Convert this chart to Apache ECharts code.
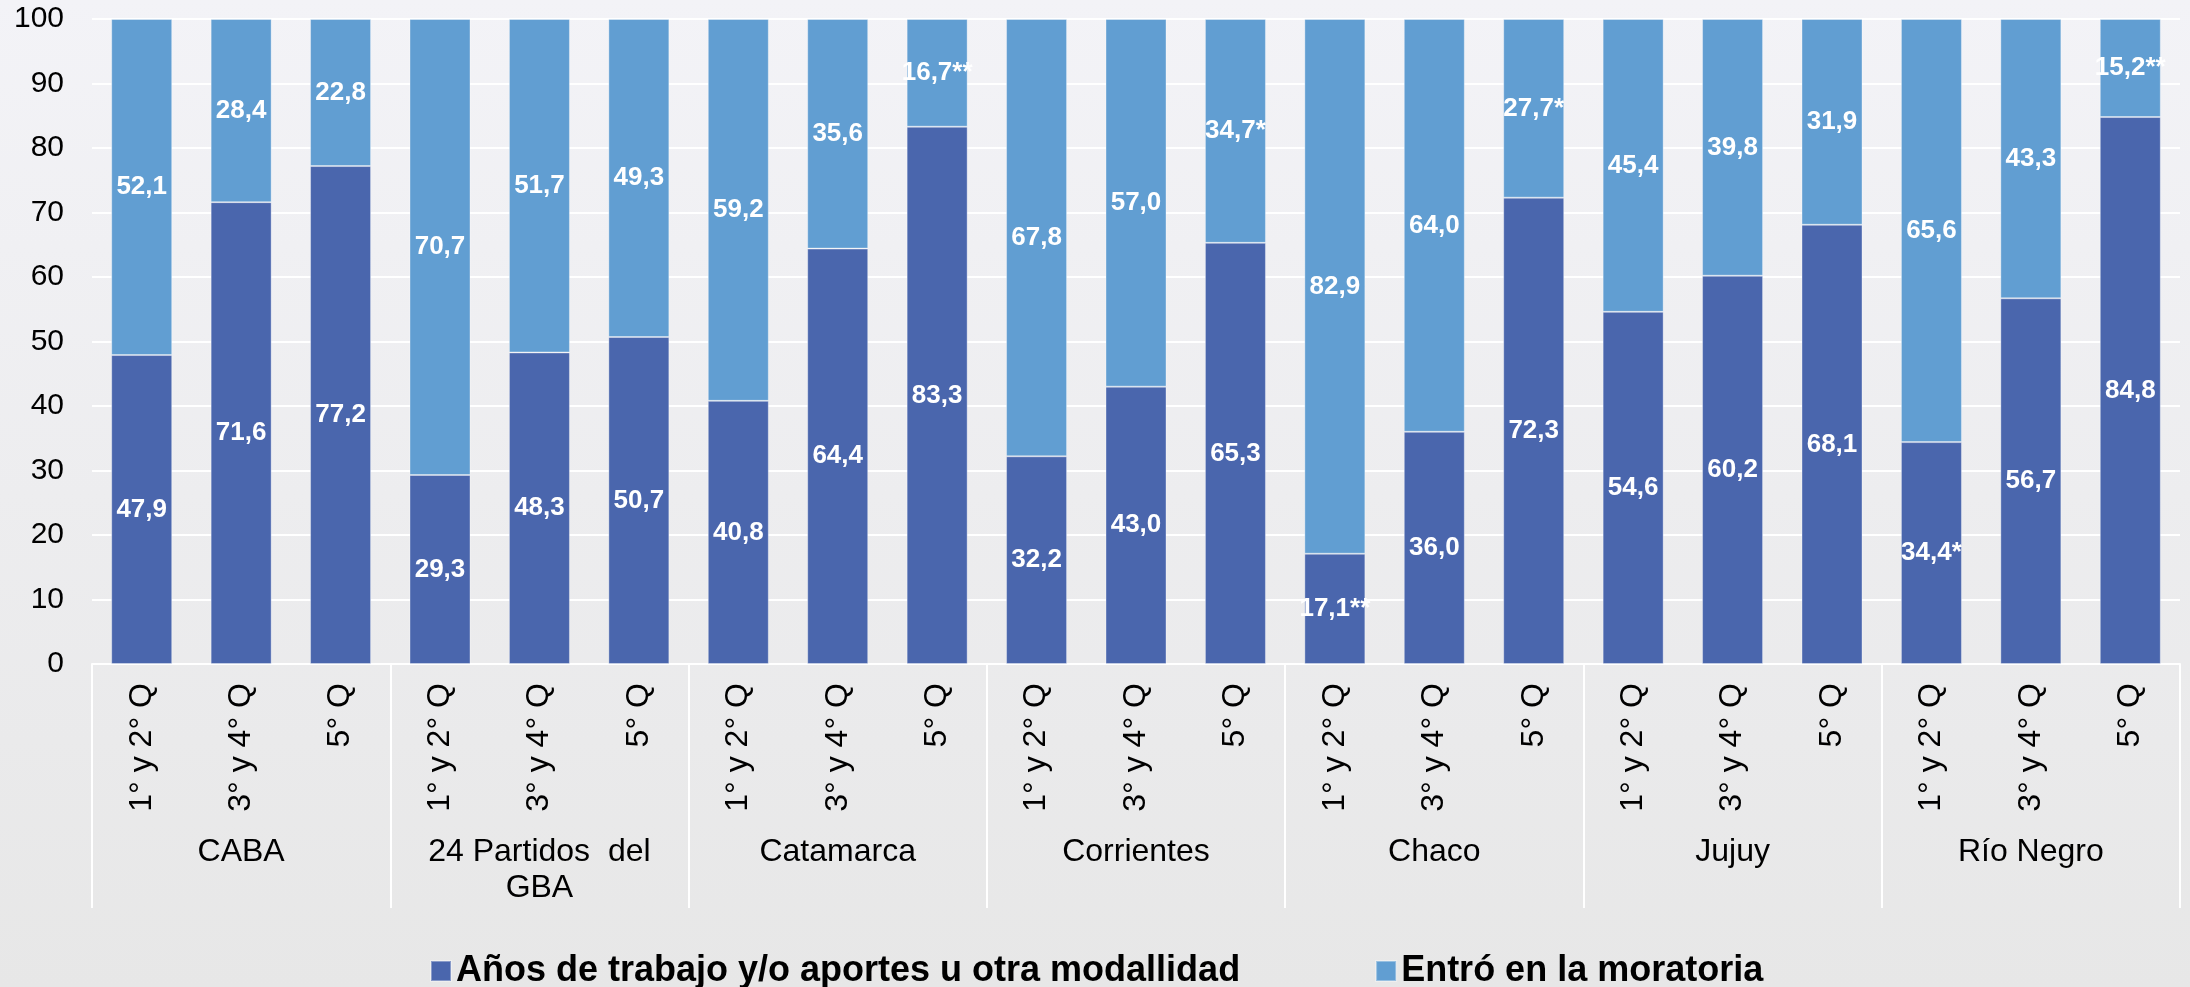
<!DOCTYPE html>
<html>
<head>
<meta charset="utf-8">
<script src="https://cdn.jsdelivr.net/npm/echarts@6/dist/echarts.min.js"></script>
<style>
  html, body { margin: 0; padding: 0; }
  #chart {
    width: 2190px;
    height: 987px;
    background: linear-gradient(#f3f3f7, #e7e7e7);
  }
</style>
</head>
<body>
<div id="chart"></div>
<script>
const groups = ['CABA', '24 Partidos  del\nGBA', 'Catamarca', 'Corrientes', 'Chaco', 'Jujuy', 'Río Negro']
const quintiles = ['1° y 2° Q', '3° y 4° Q', '5° Q']
const yTicks = [0, 10, 20, 30, 40, 50, 60, 70, 80, 90, 100]

// Años de trabajo y/o aportes u otra modallidad
const aportes = [47.9, 71.6, 77.2, 29.3, 48.3, 50.7, 40.8, 64.4, 83.3, 32.2, 43.0, 65.3, 17.1, 36.0, 72.3, 54.6, 60.2, 68.1, 34.4, 56.7, 84.8]
const aportesMarks = ['', '', '', '', '', '', '', '', '', '', '', '', '**', '', '', '', '', '', '*', '', '']
// Entró en la moratoria
const moratoria = [52.1, 28.4, 22.8, 70.7, 51.7, 49.3, 59.2, 35.6, 16.7, 67.8, 57.0, 34.7, 82.9, 64.0, 27.7, 45.4, 39.8, 31.9, 65.6, 43.3, 15.2]
const moratoriaMarks = ['', '', '', '', '', '', '', '', '**', '', '', '*', '', '', '*', '', '', '', '', '', '**']

const categories = []
groups.forEach(() => quintiles.forEach(q => categories.push(q)))

const font = 'Arial, "Liberation Sans", sans-serif'
const fmt = (v, m) => v.toFixed(1).replace('.', ',') + m

const barLabel = marks => ({
  show: true,
  position: 'inside',
  color: '#ffffff',
  fontFamily: font,
  fontWeight: 'bold',
  fontSize: 26,
  formatter: p => fmt(p.value, marks[p.dataIndex])
})

var myChart = echarts.init(document.getElementById('chart'))
myChart.setOption({
  animation: false,
  textStyle: { fontFamily: font },
  grid: { left: 92, right: 10, top: 19, bottom: 323 },
  legend: {
    top: 946,
    left: 425,
    itemWidth: 20,
    itemHeight: 20,
    itemGap: 135,
    icon: 'rect',
    textStyle: { fontFamily: font, fontSize: 36, lineHeight: 40, fontWeight: 'bold', color: '#000' },
    data: ['Años de trabajo y/o aportes u otra modallidad', 'Entró en la moratoria']
  },
  xAxis: [
    {
      type: 'category',
      data: categories,
      axisLine: { lineStyle: { color: '#ffffff', width: 2 } },
      axisTick: { show: false },
      axisLabel: { rotate: 90, margin: 19, fontSize: 32, color: '#000', fontFamily: font, interval: 0 }
    },
    {
      type: 'category',
      position: 'bottom',
      data: groups,
      axisLine: { show: false },
      axisTick: { show: true, length: 244, interval: 0, lineStyle: { color: '#ffffff', width: 2 } },
      axisLabel: { margin: 170, fontSize: 32, lineHeight: 36, color: '#000', fontFamily: font, interval: 0 }
    }
  ],
  yAxis: {
    type: 'value',
    min: 0,
    max: 100,
    interval: 10,
    axisLine: { show: false },
    axisTick: { show: false },
    axisLabel: { margin: 28, fontSize: 30, color: '#000', fontFamily: font, formatter: v => yTicks.includes(v) ? String(v) : '' },
    splitLine: { lineStyle: { color: '#ffffff', width: 2 } }
  },
  series: [
    {
      name: 'Años de trabajo y/o aportes u otra modallidad',
      type: 'bar',
      stack: 'total',
      barWidth: 61,
      data: aportes,
      itemStyle: { color: '#4a66ad', borderColor: 'rgba(255,255,255,0.35)', borderWidth: 1 },
      label: barLabel(aportesMarks)
    },
    {
      name: 'Entró en la moratoria',
      type: 'bar',
      stack: 'total',
      barWidth: 61,
      data: moratoria,
      itemStyle: { color: '#619ed2', borderColor: 'rgba(255,255,255,0.35)', borderWidth: 1 },
      label: barLabel(moratoriaMarks)
    }
  ]
})
window.addEventListener('resize', () => {
  myChart.resize()
})
</script>
</body>
</html>
